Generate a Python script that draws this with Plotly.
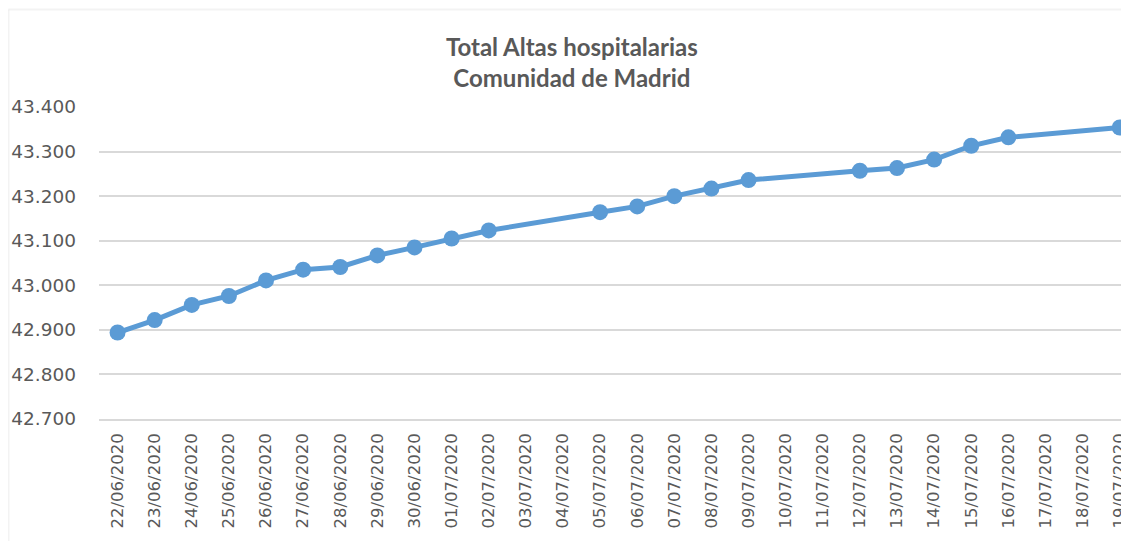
import plotly.graph_objects as go

# fechas del eje (todas las del periodo) y altas acumuladas; None = dia sin dato
fechas = [
    "22/06/2020", "23/06/2020", "24/06/2020", "25/06/2020", "26/06/2020",
    "27/06/2020", "28/06/2020", "29/06/2020", "30/06/2020", "01/07/2020",
    "02/07/2020", "03/07/2020", "04/07/2020", "05/07/2020", "06/07/2020",
    "07/07/2020", "08/07/2020", "09/07/2020", "10/07/2020", "11/07/2020",
    "12/07/2020", "13/07/2020", "14/07/2020", "15/07/2020", "16/07/2020",
    "17/07/2020", "18/07/2020", "19/07/2020",
]
altas = [
    42894, 42922, 42956, 42976, 43011,
    43035, 43041, 43067, 43085, 43105,
    43123, None, None, 43164, 43177,
    43200, 43217, 43236, None, None,
    43257, 43263, 43282, 43313, 43332,
    None, None, 43354,
]
ticks_y = [42700, 42800, 42900, 43000, 43100, 43200, 43300, 43400]
titulo = "Total Altas hospitalarias<br>Comunidad de Madrid"

azul = "#5B9BD5"
gris = "#595959"
rejilla = "#D9D9D9"

fig = go.Figure(data=[
    go.Scatter(
        x=fechas,
        y=altas,
        mode="lines+markers",
        connectgaps=True,
        line=dict(color=azul, width=5),
        marker=dict(color=azul, size=16),
        cliponaxis=False,
        name="Altas",
    )
])

# la pagina deja 8px de margen al body, se descuentan aqui
fig.update_layout(
    template="simple_white",
    width=1121,
    height=535,
    margin=dict(l=91, r=0, t=99, b=124),
    showlegend=False,
    paper_bgcolor="white",
    plot_bgcolor="white",
    title=dict(
        text="<b>" + titulo + "</b>",
        x=0.503,
        xanchor="center",
        y=0.91,
        yanchor="top",
        yref="container",
        font=dict(family="Lato", size=24, color=gris),
    ),
    font=dict(family="DejaVu Sans", color=gris),
)

fig.update_xaxes(
    type="category",
    categoryorder="array",
    categoryarray=fechas,
    range=[-0.5, 27.25],
    tickangle=-90,
    tickfont=dict(size=16.5, color=gris),
    showline=True,
    linecolor=rejilla,
    linewidth=1.5,
    ticks="",
    showgrid=False,
    ticklabelstandoff=6,
)

fig.update_yaxes(
    range=[42700, 43400],
    tickvals=ticks_y,
    ticktext=[f"{v:,}".replace(",", ".") for v in ticks_y],
    tickfont=dict(size=18.5, color=gris),
    showgrid=True,
    gridcolor=rejilla,
    gridwidth=1.5,
    showline=False,
    ticks="",
    zeroline=False,
    ticklabelstandoff=22,
)

# marco del grafico (izquierda y arriba, el resto queda recortado)
marco = dict(xref="paper", yref="paper", line=dict(color=rejilla, width=2), layer="above")
fig.add_shape(type="line", x0=-0.0879, x1=-0.0879, y0=-0.391, y1=1.3125, **marco)
fig.add_shape(type="line", x0=-0.0879, x1=1.0, y0=1.3125, y1=1.3125, **marco)

fig.write_html("out.html")
